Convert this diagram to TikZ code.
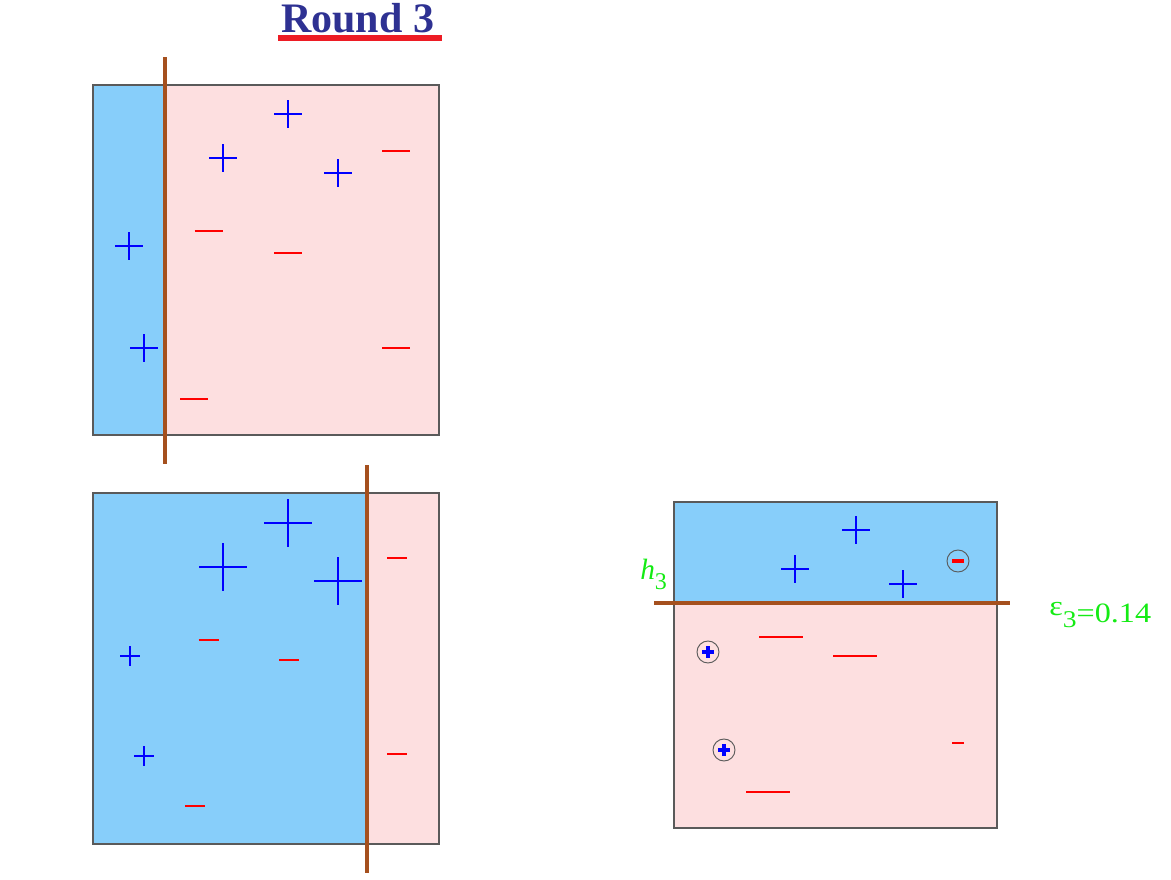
\documentclass[tikz,border=0pt]{standalone}
\usepackage{fontspec}
\setmainfont{Liberation Serif}
\usepackage{graphicx}
\definecolor{bluefill}{RGB}{135,206,250}
\definecolor{pinkfill}{RGB}{253,223,224}
\definecolor{sepbrown}{RGB}{165,80,30}
\definecolor{boxgray}{RGB}{90,90,90}
\definecolor{titleblue}{RGB}{46,49,146}
\definecolor{ured}{RGB}{237,28,36}
\definecolor{lblgreen}{RGB}{20,235,20}
\definecolor{pblue}{RGB}{0,0,255}
\definecolor{mred}{RGB}{255,0,0}
\tikzset{
  regionblue/.style={fill=bluefill},
  regionpink/.style={fill=pinkfill},
  boxborder/.style={draw=boxgray,line width=0.8pt},
  sepline/.style={draw=sepbrown,line width=2.3pt},
  plusstroke/.style={draw=pblue,line width=2pt},
  minusstroke/.style={draw=mred,line width=2pt},
  circstroke/.style={draw=boxgray,line width=0.7pt},
  pics/plusmk/.style={code={\draw[plusstroke] (-#1,0)--(#1,0) (0,-#1)--(0,#1);}},
  pics/minusmk/.style={code={\draw[minusstroke] (-#1,0)--(#1,0);}},
  pics/cplusmk/.style={code={\draw[circstroke] (0,0) circle[radius=11];
      \draw[plusstroke,line width=2.3pt] (-#1,0)--(#1,0) (0,-#1)--(0,#1);}},
  pics/cminusmk/.style={code={\draw[circstroke] (0,0) circle[radius=11];
      \draw[minusstroke,line width=2.3pt] (-#1,0)--(#1,0);}},
  lbl/.style={text=lblgreen,inner sep=0pt,anchor=base west},
}
\begin{document}
\begin{tikzpicture}[x=0.75pt,y=-0.75pt]
\useasboundingbox (0,0) rectangle (1171,879);

% title
\node[anchor=base west,inner sep=0pt,text height=21pt,text depth=1pt,text=titleblue,font=\fontsize{31.5}{34}\selectfont\bfseries] (title) at (281,32) {Round 3};
\fill[ured] (278,35) rectangle (442,41);

% top-left panel
\fill[regionblue] (93,85) rectangle (165,435);
\fill[regionpink] (165,85) rectangle (439,435);
\draw[boxborder] (93,85) rectangle (439,435);
\draw[sepline] (165,57) -- (165,464);
\pic at (288,114) {plusmk=14};
\pic at (223,158) {plusmk=14};
\pic at (338,173) {plusmk=14};
\pic at (129,246) {plusmk=14};
\pic at (144,348) {plusmk=14};
\pic at (396,151) {minusmk=14};
\pic at (208.5,231) {minusmk=14};
\pic at (288,253) {minusmk=14};
\pic at (396,348) {minusmk=14};
\pic at (194,399) {minusmk=14};

% bottom-left panel
\fill[regionblue] (93,493) rectangle (367,844);
\fill[regionpink] (367,493) rectangle (439,844);
\draw[boxborder] (93,493) rectangle (439,844);
\draw[sepline] (367,465) -- (367,873);
\pic at (288,523) {plusmk=24};
\pic at (223,567) {plusmk=24};
\pic at (338,581) {plusmk=24};
\pic at (130,656) {plusmk=10};
\pic at (144,756) {plusmk=10};
\pic at (397,558) {minusmk=10};
\pic at (208.5,640) {minusmk=10};
\pic at (289,660) {minusmk=10};
\pic at (397,754) {minusmk=10};
\pic at (195,806) {minusmk=10};

% right panel
\fill[regionblue] (674,502) rectangle (997,603);
\fill[regionpink] (674,603) rectangle (997,828);
\draw[boxborder] (674,502) rectangle (997,828);
\draw[sepline] (654,603) -- (1010,603);
\pic at (856,530) {plusmk=14};
\pic at (795,569) {plusmk=14};
\pic at (903,584) {plusmk=14};
\pic at (958,561) {cminusmk=6};
\pic at (708,652) {cplusmk=6};
\pic at (724,750) {cplusmk=6};
\pic at (781,637) {minusmk=22};
\pic at (855,656) {minusmk=22};
\pic at (768,792) {minusmk=22};
\pic at (958,743) {minusmk=6};

% labels
\node[lbl,font=\fontsize{22}{24}\selectfont] (h3) at (640,579) {\textit{h}\raisebox{-7.5pt}{\fontsize{18}{20}\selectfont 3}};
\node[lbl,font=\fontsize{21}{23}\selectfont] (eps) at (1049,622) {\scalebox{1.15}[1]{\raisebox{5pt}{ε}\raisebox{-4pt}{\fontsize{18}{20}\selectfont 3}=0.14}};
\end{tikzpicture}
\end{document}
